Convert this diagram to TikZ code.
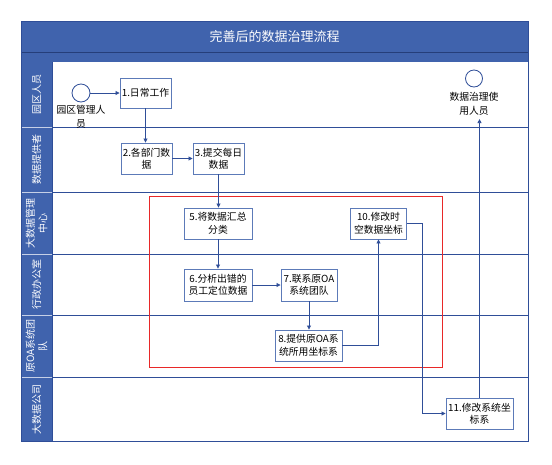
\documentclass[tikz,border=0pt]{standalone}
\usepackage{fontspec}
\setmainfont{Noto Sans CJK SC}
\usetikzlibrary{positioning, arrows.meta}

\definecolor{headblue}{RGB}{64,99,173}
\definecolor{laneblue}{RGB}{47,78,152}
\definecolor{boxblue}{RGB}{92,122,184}
\definecolor{markred}{RGB}{232,40,40}

\tikzset{
    flowbox/.style={draw=boxblue, line width=0.9pt, fill=white, align=center, inner sep=1pt,
        font=\fontsize{9.8}{12.5}\selectfont},
    flowline/.style={draw=laneblue, line width=0.8pt, -{Triangle[length=4pt,width=4pt]}},
    lanelabel/.style={rotate=90, text=white, align=center, font=\fontsize{10}{12.5}\selectfont},
    actor/.style={circle, draw=laneblue, line width=0.8pt, fill=white, inner sep=0pt},
    actortext/.style={align=center, font=\fontsize{9.8}{14}\selectfont}
}

\begin{document}
\begin{tikzpicture}[x=1pt, y=-1pt]
    \useasboundingbox (0,0) rectangle (552,464);
    % header
    \fill[headblue] (21,21) rectangle (528,62);
    \draw[laneblue!80!black, line width=0.6pt] (21,52) -- (528,52);
    \node[text=white, font=\fontsize{13}{15}\selectfont] (title) at (274.5,37) {完善后的数据治理流程};
    % lane column and lanes
    \fill[headblue] (21,62) rectangle (52,441);
    \foreach \y in {127,192,254,315,377} {
        \draw[laneblue, line width=0.8pt] (52,\y) -- (528,\y);
        \draw[white!70!headblue, line width=0.5pt] (21,\y) -- (52,\y);
    }
    \draw[laneblue, line width=0.9pt] (21,21) rectangle (528,441);
    \draw[laneblue, line width=0.8pt] (52,62) -- (52,441);
    \node[lanelabel] (l1) at (36.5,94.5) {园区人员};
    \node[lanelabel] (l2) at (36.5,159.5) {数据提供者};
    \node[lanelabel] (l3) at (36.5,223) {大数据管理\\中心};
    \node[lanelabel] (l4) at (36.5,284.5) {行政办公室};
    \node[lanelabel] (l5) at (36.5,346) {原OA系统团\\队};
    \node[lanelabel] (l6) at (36.5,409) {大数据公司};

    % red frame
    \draw[markred, line width=1pt] (149,196) rectangle (442,367);

    % actors
    \node[actor, minimum size=18pt] (start) at (81,93) {};
    \node[actortext] (startlbl) at (81,116.5) {园区管理人\\员};
    \node[actor, minimum size=17pt] (finish) at (474,78.5) {};
    \node[actortext] (finishlbl) at (474,104) {数据治理使\\用人员};

    % steps
    \node[flowbox, minimum width=51pt, minimum height=30pt] (s1) at (145.5,93) {1.日常工作};
    \node[flowbox, minimum width=51pt, minimum height=31pt] (s2) at (146.5,158.5) {2.各部门数\\据};
    \node[flowbox, minimum width=51pt, minimum height=31pt] (s3) at (218.5,158.5) {3.提交每日\\数据};
    \node[flowbox, minimum width=68pt, minimum height=31pt] (s5) at (218,223.5) {5.将数据汇总\\分类};
    \node[flowbox, minimum width=56pt, minimum height=31pt] (s10) at (378.5,223.5) {10.修改时\\空数据坐标};
    \node[flowbox, minimum width=68pt, minimum height=32pt] (s6) at (218,285) {6.分析出错的\\员工定位数据};
    \node[flowbox, minimum width=56pt, minimum height=32pt] (s7) at (309,285) {7.联系原OA\\系统团队};
    \node[flowbox, minimum width=67pt, minimum height=31pt] (s8) at (308.5,345.5) {8.提供原OA系\\统所用坐标系};
    \node[flowbox, minimum width=67pt, minimum height=31pt] (s11) at (479.5,413.5) {11.修改系统坐\\标系};
    \coordinate (turn) at (422,223.5);

    % connectors
    \draw[flowline] (start) -- (s1);
    \draw[flowline] (s1.south) -- (s1.south |- s2.north);
    \draw[flowline] (s2) -- (s3);
    \draw[flowline] (s3.south) -- (s3.south |- s5.north);
    \draw[flowline] (s5) -- (s6);
    \draw[flowline] (s6) -- (s7);
    \draw[flowline] (s7.south) -- (s7.south |- s8.north);
    \draw[flowline] (s8.east) -| (s10.south);
    \draw[flowline] (s10.east) -- (turn) |- (s11.west);
    \draw[flowline] (s11.north) -- (s11.north |- finishlbl.south);
\end{tikzpicture}
\end{document}
